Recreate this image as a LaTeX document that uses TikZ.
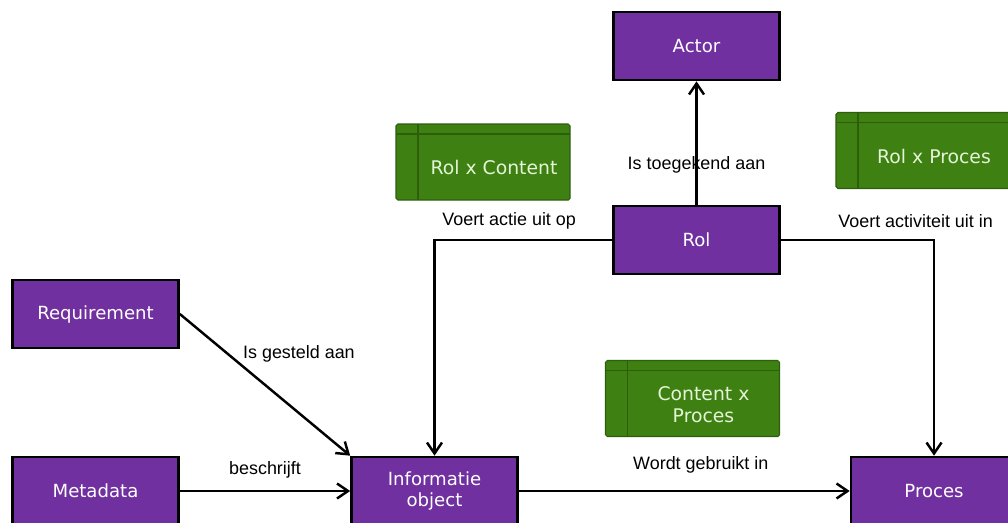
\documentclass[tikz,border=0pt]{standalone}
\usepackage{fontspec}
\setmainfont{Liberation Sans}
\newfontfamily\boxfont{DejaVu Sans}
\usetikzlibrary{arrows.meta,calc}
\definecolor{entpurple}{RGB}{112,48,160}
\definecolor{matgreen}{RGB}{62,128,18}
\definecolor{matborder}{RGB}{44,94,12}
\definecolor{mattext}{RGB}{228,244,214}
% text of a green box sits right of its bar and below its header
\newcommand{\matlabel}[1]{\hspace*{0.44cm}\raisebox{0pt}[\dimexpr\height+0.34cm\relax][\depth]{\begin{tabular}{@{}c@{}}#1\end{tabular}}}
\tikzstyle{entity} = [rectangle, draw=black, line width=1.5pt, fill=entpurple, text=white,
    font=\boxfont\fontsize{10.3}{12.4}\selectfont, minimum width=3.32cm, minimum height=1.36cm, align=center]
\tikzstyle{matrixbox} = [rectangle, draw=matborder, line width=0.6pt, fill=matgreen, text=mattext,
    font=\boxfont\fontsize{10.7}{12.6}\selectfont, minimum width=3.48cm, minimum height=1.52cm,
    rounded corners=1pt,
    path picture={\draw[matborder, line width=0.9pt]
        ([xshift=0.44cm]path picture bounding box.north west) -- ([xshift=0.44cm]path picture bounding box.south west)
        ([yshift=-0.2cm]path picture bounding box.north west) -- ([yshift=-0.2cm]path picture bounding box.north east);}]
\tikzstyle{line} = [draw, line width=1.4pt, -{Straight Barb[length=2.2mm,width=3mm]}]
\tikzstyle{rel} = [font=\fontsize{10.2}{12}\selectfont, text=black]

\begin{document}
\begin{tikzpicture}
    \clip (0,0) rectangle (20.16,10.44);
    % Place nodes
    \node [entity] (info) at (8.69,0.62) {Informatie\\object};
    \node [entity, left of=info, node distance=6.78cm] (meta) {Metadata};
    \node [entity, above of=meta, node distance=3.54cm] (req) {Requirement};
    \node [entity, right of=info, node distance=9.99cm] (proces) {Proces};
    \node [entity] (rol) at (13.93,5.64) {Rol};
    \node [entity, above of=rol, node distance=3.88cm] (actor) {Actor};
    \node [matrixbox] (rolcontent) at (9.66,7.2) {\matlabel{Rol x Content}};
    \node [matrixbox] (rolproces) at (18.46,7.43) {\matlabel{Rol x Proces}};
    \node [matrixbox, below of=rol, node distance=3.17cm, xshift=-0.08cm] (contentproces) {\matlabel{Content x\\Proces}};
    % Draw edges
    \path [line] (rol) -- node [rel, pos=0.32] {Is toegekend aan} (actor);
    \path [line] (rol.west) -| node [rel, above, pos=0.29, yshift=2pt] {Voert actie uit op} (info.north);
    \path [line] (rol.east) -| node [rel, above, pos=0.44, yshift=3pt] {Voert activiteit uit in} (proces.north);
    \path [line] (req.east) -- node [rel, above right, pos=0.33, yshift=-5pt] {Is gesteld aan} (info.north west);
    \path [line] (meta) -- node [rel, above, yshift=3pt] {beschrijft} (info);
    \path [line] (info) -- node [rel, above, pos=0.55, yshift=6pt] {Wordt gebruikt in} (proces);
\end{tikzpicture}
\end{document}
